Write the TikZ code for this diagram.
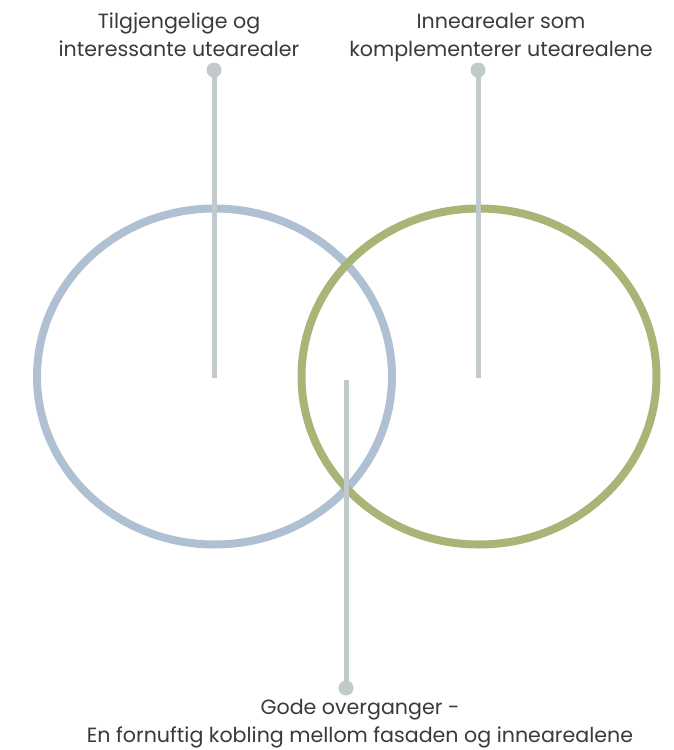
\documentclass[tikz,border=0pt]{standalone}
\usepackage{fontspec}
\setmainfont{Poppins}
\usetikzlibrary{positioning}
\definecolor{ringblue}{HTML}{AEC0D1}
\definecolor{ringgreen}{HTML}{A9B577}
\definecolor{stemgray}{HTML}{C2C9CB}
\definecolor{textgray}{HTML}{3A3A3A}
\begin{document}
\begin{tikzpicture}[x=1pt, y=-1pt,
  ring/.style={line width=8pt},
  stem/.style={draw=stemgray, line width=5pt},
  knob/.style={circle, fill=stemgray, inner sep=0pt, minimum size=15pt},
  caption/.style={align=center, inner sep=0pt, text=textgray, font=\fontsize{20.6}{28}\selectfont},
]
\useasboundingbox (0,0) rectangle (674,750);

% two areas
\draw[ring, draw=ringblue]  (214.5,376.5) ellipse [x radius=177.5, y radius=168];
\draw[ring, draw=ringgreen] (479,376.5)   ellipse [x radius=177.5, y radius=168];

% knobs and stem ends
\node[knob] (knobL) at (214,70) {};
\node[knob] (knobR) at (478,70) {};
\node[knob] (knobB) at (346,688) {};
\coordinate (endL) at (214,378);
\coordinate (endR) at (478,378);
\coordinate (endB) at (346,380);

\draw[stem] (knobL.center) -- (endL);
\draw[stem] (knobR.center) -- (endR);
\draw[stem] (knobB.center) -- (endB);

% labels
\node[caption, anchor=north] (outdoor) at (179,12.5) {Tilgjengelige og\\interessante utearealer};
\node[caption, anchor=north] (indoor)  at (501,13.5) {Innearealer som\\komplementerer utearealene};
\node[caption, anchor=north] (link)    at (360,699)  {Gode overganger -\\En fornuftig kobling mellom fasaden og innearealene};
\end{tikzpicture}
\end{document}
